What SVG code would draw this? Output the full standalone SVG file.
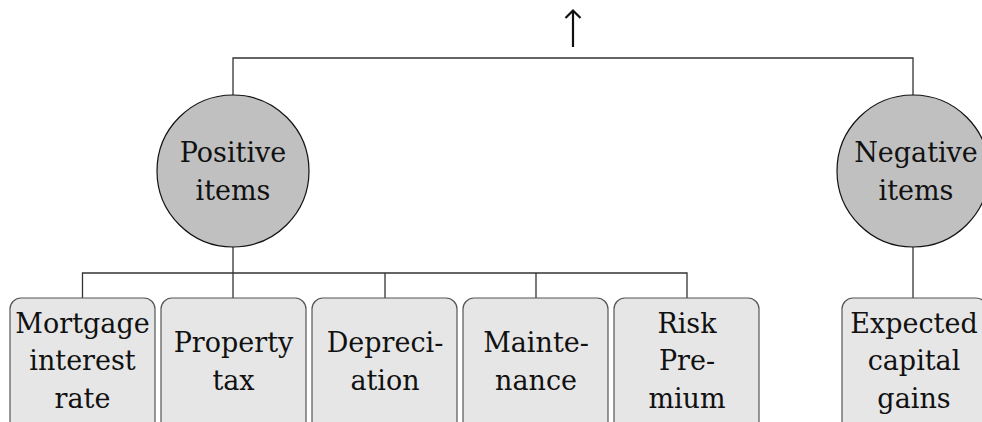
<svg xmlns="http://www.w3.org/2000/svg" width="982" height="422" viewBox="0 0 982 422">
<style>
.conn{fill:none;stroke:#333;stroke-width:1.3}
.circ{fill:#c0c0c0;stroke:#111;stroke-width:1.2}
.box{fill:#e6e6e6;stroke:#555;stroke-width:1.2}
.t{font-family:'DejaVu Serif',serif;font-size:27px;fill:#111;text-anchor:middle}
</style>
<rect width="982" height="422" fill="#fff"/>
<g id="connectors">
<path class="conn" d="M233,95 V58 H913 V95"/>
<path class="conn" d="M233,247 V273 M82.5,298 V273 H687 V298 M385,273 V298 M536,273 V298 M233,273 V298"/>
<path class="conn" d="M913,247 V298"/>
<path d="M573,47 V11 M565.5,18 L573,10.5 L580.5,18" fill="none" stroke="#111" stroke-width="2.2"/>
</g>
<g id="positive" class="t"><circle class="circ" cx="233" cy="171" r="76"/><text x="233" y="162">Positive</text><text x="233" y="200">items</text></g>
<g id="negative" class="t"><circle class="circ" cx="913" cy="171" r="76"/><text x="916" y="162">Negative</text><text x="916" y="200">items</text></g>
<g id="mortgage" class="t"><rect class="box" x="10" y="298" width="145" height="135" rx="11"/><text x="82.5" y="333">Mortgage</text><text x="82.5" y="370">interest</text><text x="82.5" y="408">rate</text></g>
<g id="property" class="t"><rect class="box" x="161" y="298" width="145" height="135" rx="11"/><text x="233.5" y="352">Property</text><text x="233.5" y="390">tax</text></g>
<g id="depreciation" class="t"><rect class="box" x="312" y="298" width="145" height="135" rx="11"/><text x="385" y="352">Depreci-</text><text x="385" y="390">ation</text></g>
<g id="maintenance" class="t"><rect class="box" x="463" y="298" width="145" height="135" rx="11"/><text x="536" y="352">Mainte-</text><text x="536" y="390">nance</text></g>
<g id="risk" class="t"><rect class="box" x="614" y="298" width="145" height="135" rx="11"/><text x="687" y="333">Risk</text><text x="687" y="370">Pre-</text><text x="687" y="408">mium</text></g>
<g id="gains" class="t"><rect class="box" x="842" y="298" width="145" height="135" rx="11"/><text x="914" y="333">Expected</text><text x="914" y="370">capital</text><text x="914" y="408">gains</text></g>
</svg>
